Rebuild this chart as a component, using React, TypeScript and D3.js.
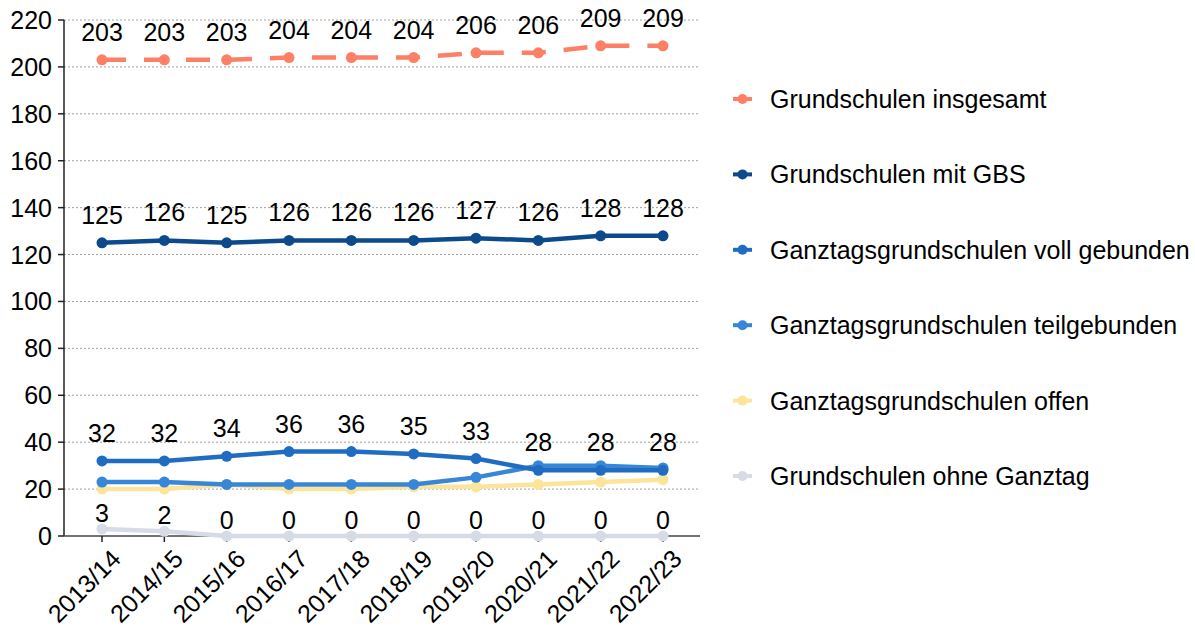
import React from 'react';
import * as d3 from 'd3';

const years = ['2013/14', '2014/15', '2015/16', '2016/17', '2017/18', '2018/19', '2019/20', '2020/21', '2021/22', '2022/23'];

const insgesamt = [203, 203, 203, 204, 204, 204, 206, 206, 209, 209];
const mitGBS = [125, 126, 125, 126, 126, 126, 127, 126, 128, 128];
const vollGebunden = [32, 32, 34, 36, 36, 35, 33, 28, 28, 28];
const teilGebunden = [23, 23, 22, 22, 22, 22, 25, 30, 30, 29];
const offen = [20, 20, 22, 20, 20, 21, 21, 22, 23, 24];
const ohneGanztag = [3, 2, 0, 0, 0, 0, 0, 0, 0, 0];

const yTicks = [0, 20, 40, 60, 80, 100, 120, 140, 160, 180, 200, 220];

interface Series {
  name: string;
  values: number[];
  color: string;
  dashed?: boolean;
  labels?: boolean;
  labelGap?: number;
}

// legend order; drawn in reverse
const series: Series[] = [
  { name: 'Grundschulen insgesamt', values: insgesamt, color: '#FC7F66', dashed: true, labels: true },
  { name: 'Grundschulen mit GBS', values: mitGBS, color: '#0C4A8C', labels: true },
  { name: 'Ganztagsgrundschulen voll gebunden', values: vollGebunden, color: '#1F6CC2', labels: true },
  { name: 'Ganztagsgrundschulen teilgebunden', values: teilGebunden, color: '#3886D8' },
  { name: 'Ganztagsgrundschulen offen', values: offen, color: '#FDE49B' },
  { name: 'Grundschulen ohne Ganztag', values: ohneGanztag, color: '#D6DBE5', labels: true, labelGap: 7 },
];

const FONT = '"Liberation Sans", Arial, sans-serif';
const FS = 25;

export default function App() {
  const width = 1195;
  const height = 629;
  const left = 64;
  const right = 700;
  const top = 20;
  const bottom = 536;

  const x = d3.scalePoint<string>().domain(years).range([102, 663]);
  const y = d3.scaleLinear().domain([0, 220]).range([bottom, top]);

  const line = d3.line<number>()
    .x((_, i) => x(years[i]) as number)
    .y(d => y(d));

  const drawOrder = [...series].reverse();

  return (
    <svg width={width} height={height} style={{ position: 'absolute', left: 0, top: 0, background: '#fff' }} fontFamily={FONT}>
      {/* grid */}
      {yTicks.filter(t => t > 0).map(t => (
        <line key={t} x1={left} x2={right} y1={y(t)} y2={y(t)} stroke="#a0a0a0" strokeWidth={1} strokeDasharray="2,2" />
      ))}
      {/* y axis */}
      <line x1={left} x2={left} y1={top} y2={bottom} stroke="#222" strokeWidth={1.5} />
      {yTicks.map(t => (
        <g key={t}>
          <line x1={left - 6} x2={left} y1={y(t)} y2={y(t)} stroke="#222" strokeWidth={1.5} />
          <text x={left - 12} y={y(t)} dy="0.36em" textAnchor="end" fontSize={FS} fill="#000">{t}</text>
        </g>
      ))}
      {/* x axis */}
      <line x1={left} x2={right} y1={bottom} y2={bottom} stroke="#444" strokeWidth={1.5} />
      {years.map(yr => (
        <g key={yr}>
          <line x1={x(yr)} x2={x(yr)} y1={bottom} y2={bottom + 6} stroke="#222" strokeWidth={1.5} />
          <text transform={`translate(${(x(yr) as number) + 8},${bottom + 12}) rotate(-45)`} textAnchor="end" dy="0.7em" fontSize={FS} fill="#000">{yr}</text>
        </g>
      ))}
      {/* lines */}
      {drawOrder.map(s => (
        <g key={s.name}>
          <path d={line(s.values) || ''} fill="none" stroke={s.color} strokeWidth={4.5}
            strokeDasharray={s.dashed ? '24,18' : undefined} />
          {s.values.map((v, i) => (
            <circle key={i} cx={x(years[i])} cy={y(v)} r={5.5} fill={s.color} />
          ))}
        </g>
      ))}
      {/* value labels */}
      {series.filter(s => s.labels).map(s => (
        <g key={s.name + '-lab'}>
          {s.values.map((v, i) => (
            <text key={i} x={x(years[i])} y={y(v) - (s.labelGap ?? 19)} textAnchor="middle" fontSize={FS} fill="#000">{v}</text>
          ))}
        </g>
      ))}
      {/* legend */}
      {series.map((s, i) => {
        const ly = 99 + i * 75.4;
        return (
          <g key={s.name + '-leg'}>
            <line x1={733} x2={752} y1={ly} y2={ly} stroke={s.color} strokeWidth={4} />
            <circle cx={742.5} cy={ly} r={5} fill={s.color} />
            <text x={770} y={ly} dy="0.36em" fontSize={FS} fill="#000">{s.name}</text>
          </g>
        );
      })}
    </svg>
  );
}
